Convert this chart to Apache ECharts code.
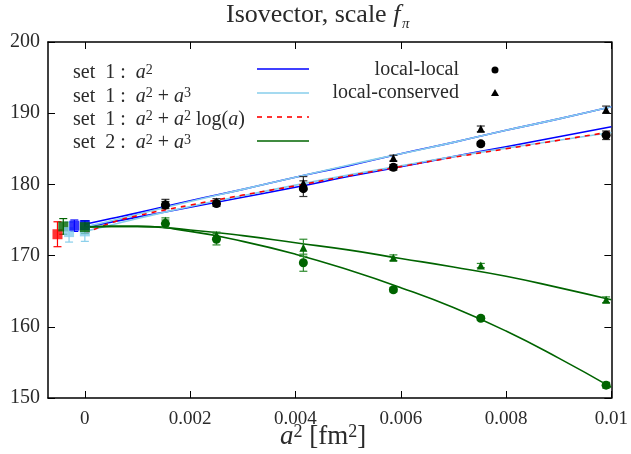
<!DOCTYPE html>
<html>
<head>
<meta charset="utf-8">
<script src="https://cdn.jsdelivr.net/npm/echarts@6/dist/echarts.min.js"></script>
<style>
  html, body { margin: 0; padding: 0; background: #fff; }
  #chart { width: 631px; height: 454px; }
</style>
</head>
<body>
<div id="chart"></div>
<script>
// lattice spacings a^2 [fm^2]
const a2 = [0.00153, 0.0025, 0.00415, 0.00586, 0.00752, 0.0099];

// set 1, local-local (circles) and local-conserved (triangles)
const s1LL = [177.1, 177.3, 179.4, 182.4, 185.7, 186.9];
const s1LLErr = [0.5, 0.4, 1.1, 0.4, 0.3, 0.6];
const s1LC = [177.4, 177.6, 180.2, 183.7, 187.8, 190.5];
const s1LCErr = [0.5, 0.4, 0.9, 0.4, 0.4, 0.5];

// set 2
const s2LL = [174.5, 172.3, 169.0, 165.2, 161.2, 151.8];
const s2LLErr = [0.5, 0.8, 1.2, 0.3, 0.3, 0.4];
const s2LC = [174.9, 172.9, 171.1, 169.7, 168.6, 163.8];
const s2LCErr = [0.4, 0.4, 1.2, 0.4, 0.3, 0.4];

// continuum values (squares), slightly shifted in x
const contX = [-0.00052, -0.00041, -0.0003, -0.0002, 0, 0, 0];
const contVal = [173.0, 174.1, 173.3, 174.2, 173.4, 174.3, 174.0];
const contErr = [1.75, 1.1, 1.4, 0.8, 1.4, 0.6, 0.9];
const contFit = ['log', 'set2', 'a3', 'a2', 'a3', 'a2', 'set2'];

// fit curves
const fitX = [0, 0.0005, 0.001, 0.002, 0.003, 0.004, 0.005, 0.006, 0.007, 0.008, 0.009, 0.01];
const fitA2LL = [174.0, 174.7, 175.4, 176.8, 178.2, 179.6, 181.1, 182.5, 183.9, 185.3, 186.7, 188.1];
const fitA2LC = [174.4, 175.2, 176.0, 177.7, 179.3, 181.0, 182.6, 184.3, 185.9, 187.6, 189.2, 190.9];
const fitA3LL = [173.4, 174.3, 175.2, 176.9, 178.4, 179.9, 181.3, 182.6, 183.9, 185.1, 186.2, 187.3];
const fitA3LC = [174.0, 174.9, 175.8, 177.6, 179.3, 181.0, 182.7, 184.3, 185.9, 187.6, 189.2, 190.9];
const fitLogLL = [173.1, 174.6, 175.6, 177.1, 178.5, 179.8, 181.2, 182.5, 183.8, 185.0, 186.2, 187.4];
const fitS2LL = [174.0, 174.1, 174.1, 173.4, 172.0, 170.2, 168.0, 165.5, 162.7, 159.4, 155.6, 151.5];
const fitS2LC = [174.0, 174.1, 174.1, 173.6, 172.8, 171.8, 170.8, 169.6, 168.4, 167.1, 165.5, 163.8];

const xTicks = [0, 0.002, 0.004, 0.006, 0.008, 0.01];
const xTickLabels = ['0', '0.002', '0.004', '0.006', '0.008', '0.01'];

const C = { a2: '#0000ff', a3: '#87ceeb', log: '#ff0000', set2: '#006400', black: '#000000' };
const FONT = 'Liberation Serif';
const TXT = '#2a2a2a';

const zip = (xs, ys) => xs.map((x, i) => [x, ys[i]]);
const zip3 = (xs, ys, es) => xs.map((x, i) => [x, ys[i], es[i]]);

function errBar(params, api) {
  const x = api.value(0), y = api.value(1), e = api.value(2);
  const t = api.coord([x, y + e]);
  const b = api.coord([x, y - e]);
  const col = api.visual('color');
  const w = 4;
  const st = { stroke: col, lineWidth: 1.2 };
  return {
    type: 'group',
    children: [
      { type: 'line', shape: { x1: t[0], y1: t[1], x2: b[0], y2: b[1] }, style: st },
      { type: 'line', shape: { x1: t[0] - w, y1: t[1], x2: t[0] + w, y2: t[1] }, style: st },
      { type: 'line', shape: { x1: b[0] - w, y1: b[1], x2: b[0] + w, y2: b[1] }, style: st }
    ]
  };
}

function fitLine(data, color, dashed) {
  return {
    type: 'line', data: data, smooth: true, symbol: 'none', silent: true,
    lineStyle: { color: color, width: 1.6, type: dashed ? [5, 5] : 'solid' },
    z: 2
  };
}
function errSeries(data, color) {
  return { type: 'custom', renderItem: errBar, data: data, itemStyle: { color: color }, z: 3, silent: true };
}
function pts(data, color, symbol, size) {
  return { type: 'scatter', data: data, symbol: symbol, symbolSize: size, itemStyle: { color: color, opacity: 1 }, z: 4, silent: true };
}

const contData = contX.map((x, i) => ({ value: [x, contVal[i], contErr[i]], itemStyle: { color: C[contFit[i]] } }));

const chart = echarts.init(document.getElementById('chart'));

const axisLine = { show: true, onZero: false, lineStyle: { color: '#000', width: 1.5 } };
const tick = { show: true, inside: true, length: 7, lineStyle: { color: '#000', width: 1 } };
const rich = size => ({
  i: { fontFamily: FONT, fontSize: size, fontStyle: 'italic', fill: TXT },
  s: { fontFamily: FONT, fontSize: Math.round(size * 0.68), lineHeight: Math.round(size * 0.68), verticalAlign: 'top', fill: TXT }
});

chart.setOption({
  animation: false,
  backgroundColor: '#fff',
  grid: { left: 48, right: 19, top: 42, bottom: 56 },
  xAxis: [{
    type: 'value', min: -0.0007, max: 0.01, position: 'bottom',
    axisLine: axisLine,
    axisTick: Object.assign({ customValues: xTicks }, tick),
    axisLabel: {
      customValues: xTicks, margin: 12, color: TXT, fontFamily: FONT, fontSize: 19,
      formatter: v => xTickLabels[xTicks.findIndex(t => Math.abs(t - v) < 1e-9)] || ''
    },
    splitLine: { show: false }
  }, {
    type: 'value', min: -0.0007, max: 0.01, position: 'top',
    axisLine: axisLine,
    axisTick: Object.assign({ customValues: xTicks }, tick),
    axisLabel: { show: false }, splitLine: { show: false }
  }],
  yAxis: [{
    type: 'value', min: 150, max: 200, interval: 10, position: 'left',
    axisLine: axisLine, axisTick: tick,
    axisLabel: { margin: 8, color: TXT, fontFamily: FONT, fontSize: 20 },
    splitLine: { show: false }
  }, {
    type: 'value', min: 150, max: 200, interval: 10, position: 'right',
    axisLine: axisLine, axisTick: tick,
    axisLabel: { show: false }, splitLine: { show: false }
  }],
  series: [
    fitLine(zip(fitX, fitA2LL), C.a2),
    fitLine(zip(fitX, fitA2LC), C.a2),
    fitLine(zip(fitX, fitA3LL), C.a3),
    fitLine(zip(fitX, fitA3LC), C.a3),
    fitLine(zip(fitX, fitLogLL), C.log, true),
    fitLine(zip(fitX, fitS2LL), C.set2),
    fitLine(zip(fitX, fitS2LC), C.set2),

    errSeries(zip3(a2, s1LL, s1LLErr), '#333'),
    errSeries(zip3(a2, s1LC, s1LCErr), '#333'),
    errSeries(zip3(a2, s2LL, s2LLErr), '#2e8b2e'),
    errSeries(zip3(a2, s2LC, s2LCErr), '#2e8b2e'),
    pts(zip(a2, s1LL), C.black, 'circle', 9),
    pts(zip(a2, s1LC), C.black, 'triangle', 8),
    pts(zip(a2, s2LL), C.set2, 'circle', 9),
    pts(zip(a2, s2LC), C.set2, 'triangle', 8),

    { type: 'custom', renderItem: errBar, data: contData, z: 3, silent: true },
    { type: 'scatter', data: contData, symbol: 'rect', symbolSize: 10, z: 4, silent: true }
  ],
  graphic: [
    // title
    { type: 'text', left: 226, top: 2, style: {
      text: 'Isovector, scale {i|f}', fontFamily: FONT, fontSize: 26, fill: TXT, rich: rich(26) } },
    { type: 'text', left: 402, top: 17, style: { text: 'π', fontFamily: FONT, fontSize: 15, fontStyle: 'italic', fill: TXT } },
    // x axis name
    { type: 'text', left: 280, top: 423, style: {
      text: '{i|a}{s|2} [fm{s|2}]', fontFamily: FONT, fontSize: 27, fill: TXT, rich: rich(27) } },
    // legend, fits
    ...[
      ['set  1 :  {i|a}{s|2}', C.a2, false],
      ['set  1 :  {i|a}{s|2} + {i|a}{s|3}', C.a3, false],
      ['set  1 :  {i|a}{s|2} + {i|a}{s|2} log({i|a})', C.log, true],
      ['set  2 :  {i|a}{s|2} + {i|a}{s|3}', C.set2, false]
    ].flatMap((row, k) => [
      { type: 'text', left: 73, top: 63 + k * 23.3, style: {
        text: row[0], fontFamily: FONT, fontSize: 20, fill: TXT, rich: rich(20) } },
      { type: 'line', shape: { x1: 257, y1: 69 + k * 24, x2: 309, y2: 69 + k * 24 },
        style: { stroke: row[1], lineWidth: 1.6, lineDash: row[2] ? [5, 5] : null } }
    ]),
    // legend, data
    { type: 'text', right: 172, top: 60, style: { text: 'local-local', fontFamily: FONT, fontSize: 20, fill: TXT, align: 'right' } },
    { type: 'text', right: 172, top: 83, style: { text: 'local-conserved', fontFamily: FONT, fontSize: 20, fill: TXT, align: 'right' } },
    { type: 'circle', shape: { cx: 495, cy: 70, r: 3.5 }, style: { fill: '#000' } },
    { type: 'polygon', shape: { points: [[495, 89], [491, 96], [499, 96]] }, style: { fill: '#000' } }
  ]
});
</script>
</body>
</html>
